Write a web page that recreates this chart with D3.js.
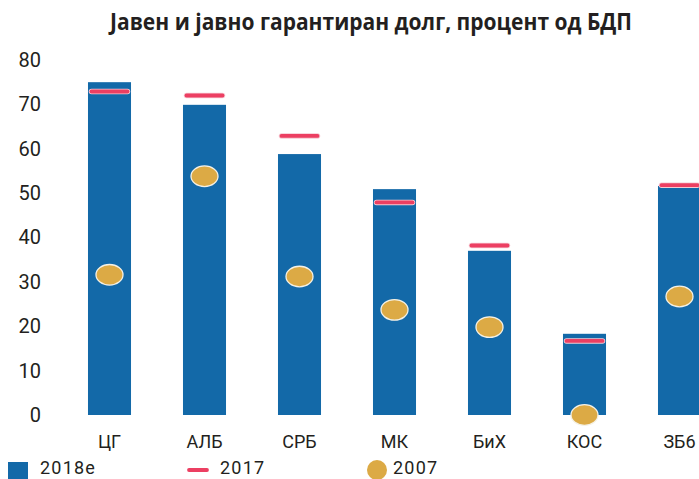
<!DOCTYPE html>
<html>
<head>
<meta charset="utf-8">
<script src="https://cdn.jsdelivr.net/npm/d3@7/dist/d3.min.js"></script>
<style>
  html, body { margin: 0; padding: 0; background: #fff; }
  svg { display: block; }
</style>
</head>
<body>
<script>
const categories = ["ЦГ", "АЛБ", "СРБ", "МК", "БиХ", "КОС", "ЗБ6"];
const values2018e = [75.0, 69.9, 58.8, 50.9, 37.0, 18.3, 51.6];
const values2017 = [72.9, 72.0, 62.9, 47.9, 38.2, 16.7, 51.8];
const values2007 = [31.6, 53.8, 31.2, 23.7, 19.8, 0.0, 26.7];
const yTicks = [0, 10, 20, 30, 40, 50, 60, 70, 80];
const legendLabels = ["2018e", "2017", "2007"];
const title = "Јавен и јавно гарантиран долг, процент од БДП";

const W = 699, H = 479;
const colBar = "#1369a8", colLine = "#ec3f62", colDot = "#dcaa45", colText = "#231f20";

const svg = d3.select("body").append("svg").attr("width", W).attr("height", H);

const x = d3.scaleBand().domain(categories).range([62, 727])
  .paddingInner(0.547).paddingOuter(0.2735);
const y = d3.scaleLinear().domain([0, 80]).range([415, 60]);

// title
svg.append("text")
  .attr("x", 371).attr("y", 30)
  .attr("text-anchor", "middle")
  .attr("font-family", "'Open Sans', sans-serif")
  .attr("font-weight", 700)
  .attr("font-size", 23)
  .attr("fill", colText)
  .attr("textLength", 522).attr("lengthAdjust", "spacingAndGlyphs")
  .text(title);

// y axis
const yAxis = svg.append("g").attr("transform", "translate(41,0)")
  .call(d3.axisLeft(y).tickValues(yTicks).tickSize(0).tickPadding(0));
yAxis.select(".domain").remove();
yAxis.selectAll("text").attr("font-family", "Roboto, sans-serif").attr("font-size", 20).attr("fill", colText);

// x axis
const xAxis = svg.append("g").attr("transform", "translate(0,415)")
  .call(d3.axisBottom(x).tickSize(0).tickPadding(20));
xAxis.select(".domain").remove();
xAxis.selectAll("text").attr("font-family", "Roboto, sans-serif").attr("font-size", 18).attr("fill", colText);

// bars
svg.append("g").selectAll("rect").data(categories).join("rect")
  .attr("x", d => x(d)).attr("width", x.bandwidth())
  .attr("y", (d, i) => y(values2018e[i]))
  .attr("height", (d, i) => y(0) - y(values2018e[i]))
  .attr("fill", colBar);

// 2017 lines
const lineG = svg.append("g");
const cx = d => x(d) + x.bandwidth() / 2;
lineG.selectAll("line.halo").data(categories).join("line").attr("class", "halo")
  .attr("x1", d => cx(d) - 18).attr("x2", d => cx(d) + 18)
  .attr("y1", (d, i) => y(values2017[i])).attr("y2", (d, i) => y(values2017[i]))
  .attr("stroke", "#f6c9d2").attr("stroke-width", 5.5).attr("stroke-linecap", "round");
lineG.selectAll("line.main").data(categories).join("line").attr("class", "main")
  .attr("x1", d => cx(d) - 18).attr("x2", d => cx(d) + 18)
  .attr("y1", (d, i) => y(values2017[i])).attr("y2", (d, i) => y(values2017[i]))
  .attr("stroke", colLine).attr("stroke-width", 3.8).attr("stroke-linecap", "round");

// 2007 dots
svg.append("g").selectAll("ellipse").data(categories).join("ellipse")
  .attr("cx", d => cx(d)).attr("cy", (d, i) => y(values2007[i]))
  .attr("rx", 13.5).attr("ry", 10.3)
  .attr("fill", colDot).attr("stroke", "#f4f1e6").attr("stroke-width", 1.3);

// legend
const lg = svg.append("g");
lg.append("rect").attr("x", 8).attr("y", 462).attr("width", 20).attr("height", 20).attr("fill", colBar);
lg.append("line").attr("x1", 189).attr("x2", 207).attr("y1", 470).attr("y2", 470)
  .attr("stroke", colLine).attr("stroke-width", 3.8).attr("stroke-linecap", "round");
lg.append("circle").attr("cx", 377).attr("cy", 470).attr("r", 10).attr("fill", colDot);
const legX = [40, 220, 393];
lg.selectAll("text").data(legendLabels).join("text")
  .attr("x", (d, i) => legX[i]).attr("y", 474)
  .attr("font-family", "Roboto, sans-serif").attr("font-size", 18)
  .attr("letter-spacing", 1.2)
  .attr("fill", colText)
  .text(d => d);
</script>
</body>
</html>
